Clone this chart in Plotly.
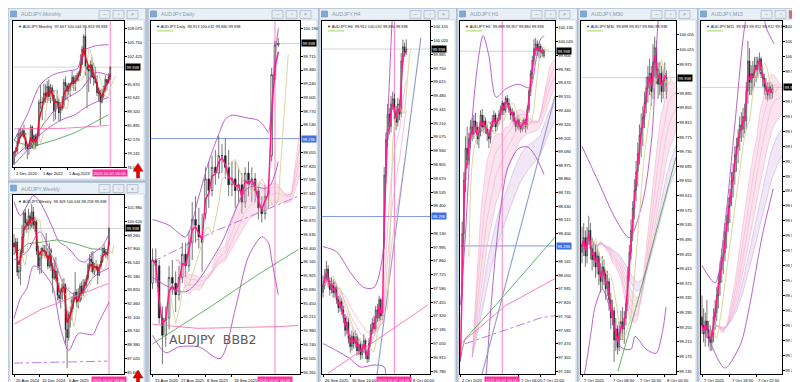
import pandas as pd
import plotly.graph_objects as go

W, H = 800, 382
FONT = "Liberation Sans"
BID = 99.938
BLUE_LEVEL = 98.296
VLINE_TEXT = "2025.10.07 00:00"
SYMBOL = "AUDJPY"

# ---------------- data: bars (open, high, low, close) ----------------
MONTHLY_BARS = [
    (76.7, 79.8, 76.6, 79.6), (79.6, 80.9, 78.5, 80.0), (80.0, 84.0, 79.3, 82.0), (82.0, 85.4, 81.6, 84.1),
    (84.1, 85.4, 83.0, 84.2), (84.2, 85.3, 83.3, 84.7), (84.7, 86.2, 82.8, 83.3), (83.3, 84.2, 80.1, 80.9),
    (80.9, 81.4, 77.9, 80.4), (80.4, 81.8, 78.9, 80.5), (80.5, 86.2, 80.3, 85.6), (85.6, 86.0, 80.4, 80.8),
    (80.8, 83.8, 80.2, 83.6), (83.6, 84.0, 80.4, 81.2), (81.2, 83.7, 81.0, 83.5), (83.5, 92.2, 83.0, 91.5),
    (91.5, 95.7, 89.9, 91.4), (91.4, 92.7, 87.3, 91.6), (91.6, 96.0, 91.0, 93.7), (93.7, 95.8, 91.4, 93.0),
    (93.0, 96.6, 91.3, 95.3), (95.3, 97.0, 91.9, 92.9), (92.9, 95.9, 91.3, 95.0), (95.0, 95.7, 91.9, 93.2),
    (93.2, 94.5, 86.9, 89.4), (89.4, 92.4, 87.4, 91.8), (91.8, 94.5, 90.0, 91.6), (91.6, 92.5, 87.0, 89.0),
    (89.0, 91.6, 87.0, 90.0), (90.0, 93.0, 89.5, 90.6), (90.6, 97.1, 90.0, 96.3), (96.3, 97.7, 92.0, 95.5),
    (95.5, 95.8, 92.0, 94.2), (94.2, 96.2, 93.2, 96.0), (96.0, 96.2, 92.9, 96.0), (96.0, 99.0, 95.0, 97.5),
    (97.5, 98.0, 94.3, 96.0), (96.0, 98.0, 94.2, 96.8), (96.8, 98.6, 96.5, 98.0), (98.0, 99.0, 96.6, 98.6),
    (98.6, 103.0, 97.8, 100.6), (100.6, 105.0, 100.5, 104.2), (104.2, 107.8, 102.5, 107.3), (107.3, 109.4, 97.9, 100.2),
    (100.2, 100.5, 90.1, 99.4), (99.4, 100.5, 94.0, 99.0), (99.0, 101.5, 96.0, 100.5), (100.5, 102.3, 98.0, 97.5),
    (97.5, 101.0, 95.5, 97.3), (97.3, 100.0, 96.0, 96.3), (96.3, 98.0, 93.0, 93.8), (93.8, 95.0, 91.8, 93.7),
    (93.7, 94.5, 86.0, 91.6), (91.6, 94.8, 91.2, 93.0), (93.0, 95.5, 92.5, 94.8), (94.8, 98.0, 94.0, 97.0),
    (97.0, 97.0, 94.3, 96.2), (96.2, 98.5, 96.0, 97.6), (97.667, 100.044, 96.853, 99.938),
]

WEEKLY_BARS = [
    (98.50, 99.40, 97.30, 98.10), (98.10, 99.00, 97.50, 98.60), (98.60, 99.00, 95.20, 95.60), (95.60, 96.20, 94.90, 95.70),
    (95.70, 97.80, 94.30, 97.50), (97.50, 100.30, 97.00, 99.10), (99.10, 101.70, 97.50, 101.50), (101.50, 101.90, 99.80, 100.50),
    (100.50, 100.90, 99.50, 100.30), (100.30, 101.90, 99.80, 101.20), (101.20, 101.50, 99.80, 100.20), (100.20, 102.40, 100.00, 101.60),
    (101.60, 102.10, 99.90, 100.30), (100.30, 101.10, 99.60, 100.60), (100.60, 100.80, 97.30, 97.70), (97.70, 98.20, 95.80, 96.20),
    (96.20, 97.40, 95.40, 97.00), (97.00, 98.00, 95.50, 98.00), (98.00, 98.30, 97.20, 97.80), (97.80, 98.30, 97.00, 97.60),
    (97.60, 99.50, 97.00, 97.20), (97.20, 98.00, 95.90, 96.20), (96.20, 98.50, 96.00, 97.80), (97.80, 98.00, 95.70, 96.20),
    (96.20, 96.50, 93.50, 95.00), (95.00, 96.90, 94.80, 95.70), (95.70, 97.10, 94.60, 95.00), (95.00, 95.80, 92.80, 93.30),
    (93.30, 94.50, 92.60, 93.00), (93.00, 94.00, 92.00, 93.60), (93.60, 94.90, 92.80, 94.40), (94.40, 95.00, 93.60, 94.30),
    (94.30, 94.50, 88.50, 89.90), (89.90, 91.80, 86.05, 89.10), (89.10, 91.70, 88.80, 91.40), (91.40, 92.20, 90.10, 91.60),
    (91.60, 93.20, 90.80, 92.80), (92.80, 93.60, 91.90, 93.20), (93.20, 95.60, 93.00, 93.60), (93.60, 93.90, 92.10, 92.60),
    (92.60, 94.00, 92.00, 92.70), (92.70, 94.50, 92.60, 94.20), (94.20, 94.70, 92.80, 93.50), (93.50, 94.90, 93.20, 94.30),
    (94.30, 94.90, 93.50, 94.60), (94.60, 95.30, 94.00, 95.00), (95.00, 96.50, 94.80, 96.30), (96.30, 97.40, 95.90, 96.90),
    (96.90, 97.60, 95.60, 96.60), (96.60, 97.70, 95.40, 95.60), (95.60, 96.50, 95.30, 96.20), (96.20, 96.80, 95.80, 96.10),
    (96.10, 96.40, 94.40, 95.30), (95.30, 96.40, 95.20, 96.20), (96.20, 97.30, 95.90, 96.70), (96.70, 98.00, 96.50, 98.00),
    (98.00, 98.35, 97.30, 97.50), (97.50, 97.90, 97.00, 97.60), (97.60, 97.70, 96.85, 97.30), (98.309, 100.044, 98.258, 99.938),
]

DAILY_BARS = [
    (95.80, 96.40, 95.70, 96.20), (96.20, 96.40, 95.80, 96.10), (96.10, 96.20, 95.10, 95.20), (95.20, 95.40, 94.40, 94.90),
    (94.90, 95.40, 94.70, 95.20), (95.20, 96.10, 95.00, 95.90), (95.90, 96.20, 95.60, 95.80), (95.80, 96.00, 95.30, 95.60),
    (95.60, 96.10, 95.50, 95.90), (95.90, 96.50, 95.80, 96.30), (96.30, 96.50, 95.90, 96.10), (96.10, 96.70, 96.00, 96.50),
    (96.50, 97.20, 96.20, 96.90), (96.90, 97.30, 96.50, 96.80), (96.80, 97.10, 96.40, 96.60), (96.60, 97.00, 96.00, 96.50),
    (97.00, 97.80, 96.90, 97.60), (97.60, 97.90, 97.10, 97.40), (97.40, 98.00, 97.30, 97.80), (97.80, 98.10, 97.50, 97.70),
    (97.70, 98.35, 97.60, 98.00), (98.00, 98.20, 97.70, 98.00), (98.00, 98.30, 97.60, 97.80), (97.80, 98.10, 97.30, 97.50),
    (97.50, 97.90, 97.30, 97.60), (97.60, 97.90, 97.10, 97.40), (97.40, 97.80, 97.20, 97.50), (97.50, 97.70, 97.00, 97.20),
    (97.20, 97.80, 97.10, 97.70), (97.70, 97.90, 97.30, 97.50), (97.50, 97.80, 97.20, 97.60), (97.60, 97.70, 97.20, 97.40),
    (97.40, 97.50, 96.90, 97.10), (97.10, 97.30, 96.85, 97.00), (97.00, 97.50, 96.90, 97.30), (97.30, 97.60, 97.10, 97.40),
    (98.00, 99.52, 97.90, 99.40), (99.40, 99.98, 99.30, 99.91), (99.913, 100.032, 99.880, 99.938),
]

H4_BARS = [
    (97.55, 97.72, 97.50, 97.62), (97.62, 97.78, 97.58, 97.70), (97.70, 97.86, 97.65, 97.78), (97.78, 97.82, 97.60, 97.66),
    (97.66, 97.70, 97.52, 97.58), (97.58, 97.70, 97.54, 97.64), (97.64, 97.68, 97.50, 97.55), (97.55, 97.66, 97.50, 97.60),
    (97.60, 97.63, 97.44, 97.48), (97.48, 97.52, 97.35, 97.40), (97.40, 97.52, 97.36, 97.46), (97.46, 97.50, 97.33, 97.38),
    (97.38, 97.42, 97.25, 97.30), (97.30, 97.34, 97.12, 97.18), (97.18, 97.32, 97.14, 97.26), (97.26, 97.30, 97.05, 97.10),
    (97.10, 97.14, 96.96, 97.02), (97.02, 97.18, 96.98, 97.12), (97.12, 97.16, 97.00, 97.05), (97.05, 97.18, 97.01, 97.12),
    (97.12, 97.15, 96.93, 96.98), (96.98, 97.10, 96.94, 97.04), (97.04, 97.07, 96.89, 96.94), (96.94, 97.05, 96.90, 97.00),
    (97.00, 97.14, 96.96, 97.08), (97.08, 97.10, 96.90, 96.95), (96.95, 97.00, 96.86, 96.90), (96.90, 97.10, 96.87, 97.05),
    (97.05, 97.24, 97.02, 97.18), (97.18, 97.30, 97.14, 97.25), (97.25, 97.32, 97.15, 97.20), (97.20, 97.42, 97.17, 97.38),
    (97.38, 97.44, 97.26, 97.30), (97.30, 97.52, 97.27, 97.48), (97.48, 97.50, 97.28, 97.32), (97.32, 97.40, 97.28, 97.36),
    (98.05, 98.78, 97.98, 98.70), (98.70, 99.12, 98.62, 99.05), (99.05, 99.40, 98.98, 99.30), (99.30, 99.36, 99.10, 99.18),
    (99.18, 99.48, 99.12, 99.40), (99.40, 99.52, 99.34, 99.45), (99.45, 99.50, 99.25, 99.32), (99.32, 99.38, 99.14, 99.22),
    (99.22, 99.46, 99.18, 99.40), (99.40, 99.44, 99.24, 99.30), (99.30, 99.90, 99.27, 99.82), (99.82, 100.03, 99.78, 99.96),
    (99.96, 100.00, 99.86, 99.91), (99.912, 100.032, 99.880, 99.938),
]

H1_BARS = [
    (97.40, 97.44, 97.32, 97.36), (97.95, 98.50, 97.85, 98.40), (98.40, 98.92, 98.32, 98.85), (98.85, 99.22, 98.75, 99.12),
    (99.12, 99.30, 98.95, 99.02), (99.02, 99.25, 98.98, 99.20), (99.20, 99.36, 99.12, 99.30), (99.30, 99.38, 99.18, 99.24),
    (99.24, 99.40, 99.20, 99.35), (99.35, 99.42, 99.25, 99.30), (99.30, 99.34, 99.15, 99.20), (99.20, 99.30, 99.12, 99.26),
    (99.26, 99.44, 99.22, 99.40), (99.40, 99.45, 99.26, 99.30), (99.30, 99.40, 99.25, 99.35), (99.35, 99.38, 99.24, 99.28),
    (99.28, 99.32, 99.18, 99.24), (99.24, 99.28, 99.12, 99.20), (99.20, 99.34, 99.16, 99.30), (99.30, 99.40, 99.26, 99.35),
    (99.35, 99.44, 99.30, 99.40), (99.40, 99.42, 99.26, 99.30), (99.30, 99.38, 99.27, 99.35), (99.35, 99.44, 99.32, 99.40),
    (99.40, 99.48, 99.36, 99.45), (99.45, 99.52, 99.40, 99.50), (99.50, 99.51, 99.40, 99.44), (99.44, 99.56, 99.42, 99.54),
    (99.54, 99.57, 99.46, 99.50), (99.50, 99.54, 99.42, 99.45), (99.45, 99.48, 99.36, 99.40), (99.40, 99.46, 99.34, 99.42),
    (99.42, 99.44, 99.32, 99.35), (99.35, 99.38, 99.26, 99.30), (99.30, 99.40, 99.28, 99.36), (99.36, 99.38, 99.27, 99.30),
    (99.30, 99.34, 99.25, 99.28), (99.28, 99.36, 99.26, 99.33), (99.33, 99.38, 99.28, 99.36), (99.36, 99.37, 99.25, 99.30),
    (99.30, 99.48, 99.28, 99.45), (99.45, 99.62, 99.42, 99.60), (99.60, 99.78, 99.56, 99.75), (99.75, 99.90, 99.70, 99.86),
    (99.86, 100.04, 99.82, 99.96), (99.96, 100.05, 99.90, 100.00), (100.00, 100.03, 99.90, 99.94), (99.94, 100.01, 99.88, 99.98),
    (99.98, 100.00, 99.88, 99.92), (99.92, 99.97, 99.89, 99.95), (99.899, 99.957, 99.880, 99.938),
]

M30_BARS = [
    (99.46, 99.53, 99.43, 99.48), (99.48, 99.54, 99.45, 99.50), (99.50, 99.52, 99.42, 99.45), (99.45, 99.53, 99.43, 99.50),
    (99.50, 99.56, 99.48, 99.52), (99.52, 99.54, 99.44, 99.47), (99.47, 99.50, 99.41, 99.44), (99.44, 99.49, 99.42, 99.46),
    (99.46, 99.48, 99.39, 99.42), (99.42, 99.48, 99.40, 99.45), (99.45, 99.46, 99.37, 99.40), (99.40, 99.43, 99.35, 99.38),
    (99.38, 99.45, 99.36, 99.42), (99.42, 99.44, 99.37, 99.40), (99.40, 99.41, 99.33, 99.36), (99.36, 99.41, 99.34, 99.38),
    (99.38, 99.39, 99.30, 99.33), (99.33, 99.35, 99.25, 99.28), (99.28, 99.33, 99.26, 99.30), (99.30, 99.31, 99.16, 99.22),
    (99.22, 99.28, 99.19, 99.25), (99.25, 99.26, 99.18, 99.20), (99.20, 99.27, 99.19, 99.24), (99.24, 99.30, 99.22, 99.27),
    (99.27, 99.31, 99.22, 99.25), (99.25, 99.30, 99.21, 99.28), (99.28, 99.34, 99.26, 99.32), (99.32, 99.42, 99.30, 99.40),
    (99.40, 99.48, 99.38, 99.46), (99.46, 99.55, 99.44, 99.52), (99.52, 99.60, 99.49, 99.58), (99.58, 99.66, 99.55, 99.63),
    (99.63, 99.71, 99.60, 99.68), (99.68, 99.76, 99.64, 99.73), (99.73, 99.81, 99.70, 99.78), (99.78, 99.84, 99.72, 99.80),
    (99.80, 99.86, 99.75, 99.83), (99.83, 99.90, 99.80, 99.87), (99.87, 99.94, 99.84, 99.91), (99.91, 99.97, 99.87, 99.94),
    (99.94, 99.99, 99.89, 99.95), (99.95, 99.97, 99.86, 99.90), (99.90, 100.03, 99.88, 99.98), (99.98, 100.05, 99.94, 100.02),
    (100.02, 100.04, 99.92, 99.96), (99.96, 99.98, 99.88, 99.92), (99.92, 99.98, 99.89, 99.95), (99.95, 99.97, 99.87, 99.90),
    (99.90, 99.96, 99.88, 99.93), (99.93, 99.98, 99.90, 99.95), (99.899, 99.957, 99.880, 99.938),
]

M15_BARS = [
    (99.40, 99.45, 99.36, 99.38), (99.38, 99.42, 99.34, 99.36), (99.36, 99.41, 99.33, 99.39), (99.39, 99.44, 99.35, 99.37),
    (99.37, 99.39, 99.33, 99.35), (99.35, 99.38, 99.32, 99.34), (99.34, 99.37, 99.32, 99.36), (99.36, 99.42, 99.34, 99.40),
    (99.40, 99.44, 99.37, 99.41), (99.41, 99.47, 99.39, 99.45), (99.45, 99.50, 99.42, 99.48), (99.48, 99.53, 99.45, 99.51),
    (99.51, 99.56, 99.48, 99.54), (99.54, 99.58, 99.50, 99.55), (99.55, 99.62, 99.53, 99.60), (99.60, 99.64, 99.56, 99.62),
    (99.62, 99.68, 99.60, 99.66), (99.66, 99.70, 99.62, 99.68), (99.68, 99.74, 99.66, 99.72), (99.72, 99.76, 99.68, 99.74),
    (99.74, 99.80, 99.71, 99.78), (99.78, 99.82, 99.74, 99.80), (99.80, 99.84, 99.76, 99.82), (99.82, 99.87, 99.79, 99.85),
    (99.85, 99.88, 99.81, 99.84), (99.84, 99.89, 99.82, 99.87), (99.87, 99.90, 99.83, 99.86), (99.86, 99.95, 99.84, 99.93),
    (99.93, 100.047, 99.90, 100.00), (100.00, 100.03, 99.92, 99.95), (99.95, 99.99, 99.92, 99.97), (99.97, 100.00, 99.93, 99.96),
    (99.96, 100.01, 99.94, 99.99), (99.99, 100.01, 99.95, 99.98), (99.98, 100.01, 99.96, 100.00), (100.00, 100.02, 99.97, 100.005),
    (100.005, 100.01, 99.96, 99.97), (99.97, 99.99, 99.94, 99.96), (99.96, 99.97, 99.92, 99.94), (99.94, 99.96, 99.91, 99.93),
    (99.93, 99.95, 99.905, 99.92), (99.92, 99.95, 99.91, 99.94), (99.94, 99.95, 99.91, 99.925), (99.925, 99.945, 99.912, 99.938),
]

# ---------------- price-scale tick labels (those hidden under the price boxes are left out) ----------------
MONTHLY_TICKS = [109.075, 105.750, 102.425, 95.870, 92.645, 89.320, 85.895, 82.570, 79.245, 76.020]
WEEKLY_TICKS = [101.980, 100.620, 99.260, 97.900, 96.540, 95.180, 93.820, 92.460, 91.100, 89.740, 88.380, 87.020, 85.660]
DAILY_TICKS = [100.190, 99.715, 99.480, 99.240, 99.005, 98.770, 98.530, 98.055, 97.820, 97.585, 97.345,
               97.110, 96.875, 96.635, 96.400, 96.165, 95.925, 95.690, 95.450, 95.215, 94.980, 94.740, 94.505, 94.265]
H4_TICKS = [100.155, 100.020, 99.885, 99.750, 99.615, 99.480, 99.345, 99.210, 99.075, 98.940, 98.805, 98.670, 98.535,
            98.400, 98.130, 97.995, 97.860, 97.725, 97.590, 97.455, 97.320, 97.185, 97.050, 96.915, 96.780]
H1_TICKS = [100.135, 100.020, 99.900, 99.785, 99.670, 99.555, 99.440, 99.320, 99.205, 99.090, 98.975, 98.860, 98.745,
            98.630, 98.515, 98.400, 98.165, 98.050, 97.935, 97.820, 97.700, 97.585, 97.470, 97.355, 97.240]
M30_TICKS = [100.055, 100.015, 99.975, 99.895, 99.855, 99.815, 99.775, 99.735, 99.695, 99.655, 99.615,
             99.575, 99.535, 99.495, 99.455, 99.415, 99.375, 99.335, 99.295, 99.255, 99.215, 99.175, 99.135]
M15_TICKS = [100.080, 100.045, 100.010, 99.975, 99.905, 99.870, 99.835, 99.800, 99.765, 99.730, 99.695,
             99.660, 99.625, 99.590, 99.555, 99.520, 99.485, 99.450, 99.415, 99.380, 99.345, 99.310, 99.275]

# ---------------- time-scale labels (bar position, text) ----------------
MONTHLY_DATES = [(0, "1 Dec 2020"), (16, "1 Apr 2022"), (32, "1 Aug 2023")]
WEEKLY_DATES = [(0, "20 Aug 2024"), (16, "10 Dec 2024"), (33, "6 Apr 2025")]
DAILY_DATES = [(0, "15 Aug 2025"), (8, "27 Aug 2025"), (16, "8 Sep 2025"), (24, "18 Sep 2025")]
H4_DATES = [(0, "26 Sep 2025"), (16, "30 Sep 16:00"), (51.5, "8 Oct 00:00")]
H1_DATES = [(0, "2 Oct 2025"), (35.0, "7 Oct 06:00"), (48.2, "7 Oct 22:00")]
M30_DATES = [(0, "7 Oct 2025"), (17, "7 Oct 08:30"), (33, "7 Oct 16:30"), (49, "8 Oct 00:30")]
M15_DATES = [(0, "7 Oct 2025"), (17, "7 Oct 18:30"), (33, "7 Oct 22:30")]

# ---------------- header OHLC texts ----------------
HEADERS = {
    "Monthly": "97.667 100.044 96.853 99.938",
    "Weekly": "98.309 100.044 98.258 99.938",
    "Daily": "99.913 100.032 99.880 99.938",
    "H4": "99.912 100.032 99.880 99.938",
    "H1": "99.899 99.957 99.880 99.938",
    "M30": "99.899 99.957 99.880 99.938",
    "M15": "99.913 99.912 99.912 99.938",
}

# ---------------- indicator lines (bar position, price) ----------------
MONTHLY_LINES = [
    ("bb", [0, 8, 16, 24, 32, 38, 42, 49, 57], [82.4, 88.6, 95.8, 98.2, 99.0, 99.5, 103.8, 105.0, 105.3]),
    ("bb", [0, 10, 20, 30, 40, 49, 57], [78.5, 82.0, 87.5, 92.0, 94.5, 98.6, 98.0]),
    ("bb", [0, 8, 16, 28, 37, 43, 49, 57], [76.7, 80.1, 83.9, 87.2, 88.6, 90.3, 91.5, 92.7]),
    ("green", [0, 10, 26, 37, 46, 57], [82.4, 80.8, 82.7, 84.3, 86.2, 88.6]),
    ("pink", [0, 30, 57], [85.2, 85.3, 86.0]),
]
WEEKLY_LINES = [
    ("bb", [0, 4, 8, 12, 16, 20, 24, 28, 32, 36, 40, 44, 50, 55, 59],
     [102.6, 101.2, 102.2, 103.2, 102.6, 101.4, 100.0, 98.6, 98.2, 97.6, 96.8, 96.6, 97.6, 98.2, 99.4]),
    ("bb", [0, 8, 16, 24, 32, 40, 50, 59], [96.8, 97.6, 99.6, 97.1, 94.1, 93.2, 95.2, 96.0]),
    ("bb", [0, 4, 8, 12, 16, 20, 24, 29, 34, 40, 49, 52, 59],
     [91.0, 93.0, 94.0, 96.2, 96.0, 95.2, 94.2, 90.0, 87.8, 89.5, 89.4, 90.4, 92.6]),
    ("green", [0, 8.7, 19, 27, 38, 48, 58], [97.43, 98.42, 98.62, 98.81, 98.42, 97.92, 97.83]),
    ("pink", [0, 16.8, 37.9, 58.4], [90.41, 91.89, 93.18, 94.46]),
    ("dash", [0, 58], [86.55, 86.75]),
]
DAILY_LINES = [
    ("bb", [0, 5, 10, 14, 17, 20, 22, 24, 28, 32, 34, 35, 36, 37, 38],
     [96.9, 96.8, 96.6, 97.3, 97.9, 98.37, 98.63, 98.70, 98.66, 98.61, 98.49, 98.40, 98.9, 99.7, 100.2]),
    ("bb", [0, 10, 20, 29, 35, 38], [95.9, 95.65, 96.4, 97.45, 97.45, 97.9]),
    ("bb", [0, 4, 8, 14, 20.4, 25.2, 29, 33, 35, 36, 37, 38],
     [94.9, 94.6, 94.7, 94.7, 94.5, 95.4, 96.26, 96.6, 96.5, 96.2, 95.9, 95.6]),
    ("dash", [0, 18.5, 44], [96.17, 96.69, 97.3]),
    ("green", [0, 17.7, 31.9, 44], [94.75, 95.40, 95.95, 96.38]),
    ("pink", [0, 13.7, 38, 44], [95.09, 95.02, 95.05, 95.07]),
]
H4_LINES = [
    ("bb", [0, 8, 16, 24, 30, 35, 37, 39, 41, 44, 49], [98.0, 97.95, 97.75, 97.6, 97.6, 97.9, 98.8, 99.6, 100.3, 100.8, 100.9]),
    ("bb", [0, 8, 16, 22, 30, 36, 37, 38, 42, 49], [97.05, 96.98, 96.9, 96.82, 96.84, 96.82, 96.6, 96.3, 96.2, 96.4]),
    ("pink", [2.9, 48.2, 61.8], [96.76, 97.27, 97.43]),
    ("slate", [31.8, 57.6], [96.75, 100.05]),
]
H1_LINES = [
    ("bb", [0, 3, 6.3, 10, 13.5, 17, 21.3, 27, 34.4, 41.6, 45, 47.6, 50],
     [97.8, 98.4, 99.24, 99.8, 100.07, 99.9, 99.55, 99.62, 99.66, 99.63, 99.85, 100.03, 100.07]),
    ("bb", [0, 2, 5, 10, 15.3, 18.3, 23, 28.4, 35, 40.4, 45, 50],
     [97.2, 97.0, 96.6, 96.5, 97.2, 97.79, 98.5, 98.96, 99.12, 99.13, 99.05, 98.9]),
    ("green", [0, 2.7, 20.7, 56.6], [97.37, 97.51, 97.79, 98.37]),
    ("pink", [0, 26.6, 56.6], [97.47, 97.79, 98.02]),
    ("dash", [2.7, 48.2, 56.6], [97.47, 97.69, 97.71]),
    ("slate", [12.9, 57.2], [97.215, 99.59]),
]
M30_LINES = [
    ("bb", [0, 10, 20, 28, 36, 41.4, 45, 50], [99.75, 99.65, 99.55, 99.5, 99.6, 99.78, 100.09, 100.3]),
    ("bb", [0, 1.8, 5.3, 7.7, 12, 17, 23.1, 29, 31.4, 37.9, 43.8, 47.9, 49.7],
     [99.10, 99.135, 99.24, 99.31, 99.36, 99.30, 99.20, 99.195, 99.23, 99.195, 99.184, 99.25, 99.31]),
    ("green", [21.3, 32, 55.6], [99.135, 99.31, 99.72]),
]
M15_LINES = [
    ("bb", [0, 8, 14, 20, 26, 30, 36, 40, 44], [99.52, 99.48, 99.62, 99.85, 100.08, 100.15, 100.12, 100.07, 100.04]),
    ("bb", [0, 3.6, 13.9, 23.5, 28.9, 36.7, 43.4], [99.37, 99.35, 99.28, 99.336, 99.424, 99.59, 99.70]),
]

# ---------------- window / panel layout (pixels) ----------------
PANELS = [
    dict(name="Monthly", bars=MONTHLY_BARS, ticks=MONTHLY_TICKS, dates=MONTHLY_DATES, lines=MONTHLY_LINES,
         win=(0, 0, 138, 174), frame=(5, 13, 116, 160), x0=6, dx=1.66, yref=21, pref=109.075, slope=0.23781,
         vline=58, blue=False, ribbon=None, red="#e0102e", arrow=True),
    dict(name="Weekly", bars=WEEKLY_BARS, ticks=WEEKLY_TICKS, dates=WEEKLY_DATES, lines=WEEKLY_LINES,
         win=(0, 175, 138, 382), frame=(5, 188, 116, 368), x0=6, dx=1.61, yref=201, pref=101.98, slope=0.09891,
         vline=59, blue=False, ribbon=None, red="#e0102e", arrow=True),
    dict(name="Daily", bars=DAILY_BARS, ticks=DAILY_TICKS, dates=DAILY_DATES, lines=DAILY_LINES,
         win=(140, 0, 311, 382), frame=(143, 13, 292, 368), x0=144.5, dx=3.31, yref=21, pref=100.19, slope=0.017174,
         vline=37, blue=True, ribbon="pink", red="#ff1a8c", arrow=False),
    dict(name="H4", bars=H4_BARS, ticks=H4_TICKS, dates=H4_DATES, lines=H4_LINES,
         win=(311, 0, 449, 382), frame=(314, 13, 422, 368), x0=315, dx=1.7, yref=19, pref=100.155, slope=0.009754,
         vline=42, blue=True, ribbon="thin", red="#ff1a8c", arrow=False),
    dict(name="H1", bars=H1_BARS, ticks=H1_TICKS, dates=H1_DATES, lines=H1_LINES,
         win=(449, 0, 570, 382), frame=(452, 13, 547, 368), x0=452.5, dx=1.67, yref=20, pref=100.135, slope=0.00839,
         vline=25, blue=True, ribbon="both", red="#ff1a8c", arrow=False),
    dict(name="M30", bars=M30_BARS, ticks=M30_TICKS, dates=M30_DATES, lines=M30_LINES,
         win=(570, 0, 690, 382), frame=(573, 13, 668, 368), x0=574, dx=1.69, yref=27, pref=100.055, slope=0.002722,
         vline=None, blue=False, ribbon="both", red="#ff1a8c", arrow=False),
    dict(name="M15", bars=M15_BARS, ticks=M15_TICKS, dates=M15_DATES, lines=M15_LINES,
         win=(690, 0, 800, 382), frame=(693, 13, 774, 368), x0=694, dx=1.64, yref=19, pref=100.08, slope=0.002333,
         vline=None, blue=False, ribbon="both", red="#ff1a8c", arrow=False),
]

LINE_STYLE = {
    "bb": dict(color="#b24fc6", width=0.9),
    "green": dict(color="#3c9e3c", width=0.8),
    "pink": dict(color="#ff6fb0", width=0.9),
    "slate": dict(color="#8e9cc9", width=1.1),
    "dash": dict(color="#b46ee6", width=0.9, dash="dashdot"),
}
LBL = 4.1   # scale label font size
HDR = 3.9   # chart header font size


def fx(x):
    return x / W


def fy(y):
    return 1 - y / H


fig = go.Figure()
shapes, annotations = [], []
layout = dict(width=W, height=H, margin=dict(l=0, r=0, t=0, b=0), paper_bgcolor="#cbd6e2",
              plot_bgcolor="#ffffff", showlegend=False, hovermode=False)

# window chrome (below everything)
for p in PANELS:
    wx0, wy0, wx1, wy1 = p["win"]
    shapes.append(dict(type="rect", xref="paper", yref="paper", x0=fx(wx0), x1=fx(wx1), y0=fy(wy1), y1=fy(wy0),
                       fillcolor="#dde6f0", line=dict(color="#9fb0c4", width=1), layer="below"))
    shapes.append(dict(type="rect", xref="paper", yref="paper", x0=fx(wx0 + 1), x1=fx(wx1 - 1), y0=fy(wy0 + 12),
                       y1=fy(wy0 + 1), fillcolor="#e9eff6", line=dict(width=0), layer="below"))
    shapes.append(dict(type="rect", xref="paper", yref="paper", x0=fx(wx0 + 2), x1=fx(wx1 - 2), y0=fy(wy1 - 2),
                       y1=fy(wy0 + 12), fillcolor="#ffffff", line=dict(color="#b8c4d2", width=0.6), layer="below"))
    shapes.append(dict(type="rect", xref="paper", yref="paper", x0=fx(wx0 + 2.5), x1=fx(wx0 + 8.5), y0=fy(wy0 + 9),
                       y1=fy(wy0 + 3), fillcolor="#7fa9d8", line=dict(color="#5b86b8", width=0.5)))
    annotations.append(dict(text=f"{SYMBOL},{p['name']}", x=fx(wx0 + 11), y=fy(wy0 + 6.5), xref="paper", yref="paper",
                            xanchor="left", yanchor="middle", showarrow=False,
                            font=dict(family=FONT, size=5.3, color="#8797ab")))
    for k, off in enumerate([47, 33, 19]):
        is_close_active = (p["name"] == "M15" and k == 2)
        shapes.append(dict(type="rect", xref="paper", yref="paper", x0=fx(wx1 - off), x1=fx(wx1 - off + 11),
                           y0=fy(wy0 + 10.5), y1=fy(wy0 + 2.5),
                           fillcolor="#e06a5a" if is_close_active else "#e8edf3",
                           line=dict(color="#98a6b8", width=0.6)))
        annotations.append(dict(text=["–", "▫", "×"][k], x=fx(wx1 - off + 5.5), y=fy(wy0 + 6.5), xref="paper",
                                yref="paper", showarrow=False, xanchor="center", yanchor="middle",
                                font=dict(family=FONT, size=5, color="#ffffff" if is_close_active else "#7d8a9a")))

for i, p in enumerate(PANELS, start=1):
    s = "" if i == 1 else str(i)
    xa, ya = "x" + s, "y" + s
    f0x, f0y, f1x, f1y = p["frame"]
    price_at = lambda y, p=p: p["pref"] - (y - p["yref"]) * p["slope"]
    xr = [(f0x - p["x0"]) / p["dx"], (f1x - p["x0"]) / p["dx"]]
    yr = [price_at(f1y), price_at(f0y)]
    layout["xaxis" + s] = dict(domain=[fx(f0x), fx(f1x)], range=xr, anchor=ya, showgrid=False, zeroline=False,
                               showticklabels=False, ticks="outside", ticklen=2, tickwidth=0.5, tickcolor="#000",
                               tickvals=[d[0] for d in p["dates"]], showline=True, linecolor="#000", linewidth=1,
                               mirror=True, rangeslider=dict(visible=False), fixedrange=True)
    layout["yaxis" + s] = dict(domain=[fy(f1y), fy(f0y)], range=yr, anchor=xa, side="right", showgrid=False,
                               zeroline=False, tickvals=p["ticks"], ticktext=[f"{v:.3f}" for v in p["ticks"]],
                               tickfont=dict(family=FONT, size=LBL, color="#000"), ticks="outside", ticklen=1.5,
                               tickwidth=0.5, tickcolor="#000", showline=True, linecolor="#000", linewidth=1,
                               mirror=True, fixedrange=True)

    bars = p["bars"]
    idx = list(range(len(bars)))
    O = [b[0] for b in bars]
    Hh = [b[1] for b in bars]
    L = [b[2] for b in bars]
    C = [b[3] for b in bars]
    close = pd.Series(C)

    shapes.append(dict(type="line", xref=xa + " domain", yref=ya, x0=0, x1=1, y0=BID, y1=BID,
                       line=dict(color="#b9b9b9", width=0.6), layer="below"))
    if p["blue"]:
        shapes.append(dict(type="line", xref=xa + " domain", yref=ya, x0=0, x1=1, y0=BLUE_LEVEL, y1=BLUE_LEVEL,
                           line=dict(color="#6f8fe6", width=0.9), layer="below"))
    if p["vline"] is not None:
        shapes.append(dict(type="line", xref=xa, yref=ya + " domain", x0=p["vline"], x1=p["vline"], y0=0, y1=1,
                           line=dict(color="#ff5cb0", width=0.8), layer="below"))

    if p["ribbon"] in ("pink", "both"):
        groups = [([8, 12, 17, 24], "#f4a2c6", "rgba(246,165,200,0.30)")]
        if p["ribbon"] == "both":
            groups.append(([30, 42], "#c9a2df", "rgba(205,168,228,0.28)"))
        for spans, lc, fc in groups:
            for k, sp in enumerate(spans):
                e = close.ewm(span=sp, adjust=False).mean()
                fig.add_trace(go.Scatter(x=[v + 7 for v in idx], y=e.tolist(), mode="lines", xaxis=xa, yaxis=ya,
                                         line=dict(color=lc, width=0.5), fill="tonexty" if k > 0 else None,
                                         fillcolor=fc, hoverinfo="skip"))
    elif p["ribbon"] == "thin":
        for sp in [8, 13, 21]:
            e = close.ewm(span=sp, adjust=False).mean()
            fig.add_trace(go.Scatter(x=idx, y=e.tolist(), mode="lines", xaxis=xa, yaxis=ya,
                                     line=dict(color="#f59ac2", width=0.6), hoverinfo="skip"))

    for kind, xs, ys in p["lines"]:
        st = dict(LINE_STYLE[kind])
        if kind == "bb":
            st["shape"] = "spline"
            st["smoothing"] = 0.8
        fig.add_trace(go.Scatter(x=xs, y=ys, mode="lines", xaxis=xa, yaxis=ya, line=st, hoverinfo="skip"))

    fig.add_trace(go.Candlestick(x=idx, open=O, high=Hh, low=L, close=C, xaxis=xa, yaxis=ya, whiskerwidth=0,
                                 increasing=dict(line=dict(color="#1b1b1b", width=0.6), fillcolor="#ffffff"),
                                 decreasing=dict(line=dict(color="#1b1b1b", width=0.6), fillcolor="#1b1b1b"),
                                 hoverinfo="skip"))

    sma = close.rolling(3).mean()
    fig.add_trace(go.Scatter(x=[v + 3 for v in idx], y=sma.tolist(), mode="lines", xaxis=xa, yaxis=ya,
                             line=dict(color="#d8cf98", width=0.9), hoverinfo="skip"))
    fast = close.ewm(span=2 if p["red"] == "#ff1a8c" else 3, adjust=False).mean()
    fig.add_trace(go.Scatter(x=idx, y=fast.tolist(), mode="lines", xaxis=xa, yaxis=ya,
                             line=dict(color=p["red"], width=1.5), hoverinfo="skip"))

    annotations.append(dict(text=f"▼ {SYMBOL},{p['name']}  {HEADERS[p['name']]}", x=fx(f0x + 3), y=fy(f0y + 1.5),
                            xref="paper", yref="paper", xanchor="left", yanchor="top", showarrow=False,
                            font=dict(family=FONT, size=HDR, color="#111")))
    if p["name"] not in ("Monthly", "Weekly"):
        shapes.append(dict(type="line", xref="paper", yref="paper", x0=fx(f0x + 6), x1=fx(f0x + 22),
                           y0=fy(f0y + 10), y1=fy(f0y + 10), line=dict(color="#b7e27a", width=1.3)))

    for bi, txt in p["dates"]:
        annotations.append(dict(text=txt, x=bi, xref=xa, y=fy(f1y + 1.5), yref="paper", xanchor="left",
                                yanchor="top", showarrow=False, font=dict(family=FONT, size=LBL, color="#000")))
    if p["vline"] is not None:
        annotations.append(dict(text=VLINE_TEXT, x=p["vline"], xref=xa, y=fy(f1y + 1.5), yref="paper",
                                xanchor="center", yanchor="top", showarrow=False, bgcolor="#ff2f9e", borderpad=0.6,
                                font=dict(family=FONT, size=LBL, color="#ffffff")))

    annotations.append(dict(text=f"{BID:.3f}", x=fx(f1x + 1), xref="paper", y=BID, yref=ya, xanchor="left",
                            yanchor="middle", showarrow=False, bgcolor="#000000", borderpad=0.5,
                            font=dict(family=FONT, size=LBL, color="#ffffff")))
    if p["blue"]:
        annotations.append(dict(text=f"{BLUE_LEVEL:.3f}", x=fx(f1x + 1), xref="paper", y=BLUE_LEVEL, yref=ya,
                                xanchor="left", yanchor="middle", showarrow=False, bgcolor="#3f6fe0", borderpad=0.5,
                                font=dict(family=FONT, size=LBL, color="#ffffff")))

    if p["arrow"]:
        ax, ay = f1x + 9, f1y - 2
        path = (f"M {fx(ax)},{fy(ay + 6)} L {fx(ax + 5)},{fy(ay - 2)} L {fx(ax + 10)},{fy(ay + 6)} "
                f"L {fx(ax + 6.5)},{fy(ay + 6)} L {fx(ax + 6.5)},{fy(ay + 13)} L {fx(ax + 3.5)},{fy(ay + 13)} "
                f"L {fx(ax + 3.5)},{fy(ay + 6)} Z")
        shapes.append(dict(type="path", xref="paper", yref="paper", path=path, fillcolor="#e00000",
                           line=dict(color="#b00000", width=0.5)))

# caption in the daily chart
annotations.append(dict(text="AUDJPY  BBB2", x=fx(205), y=fy(333), xref="paper", yref="paper", showarrow=False,
                        xanchor="center", yanchor="middle",
                        font=dict(family="DejaVu Sans", size=12.5, color="#5a5a5a")))

layout["shapes"] = shapes
layout["annotations"] = annotations
fig.update_layout(**layout)
fig.write_html("out.html")
